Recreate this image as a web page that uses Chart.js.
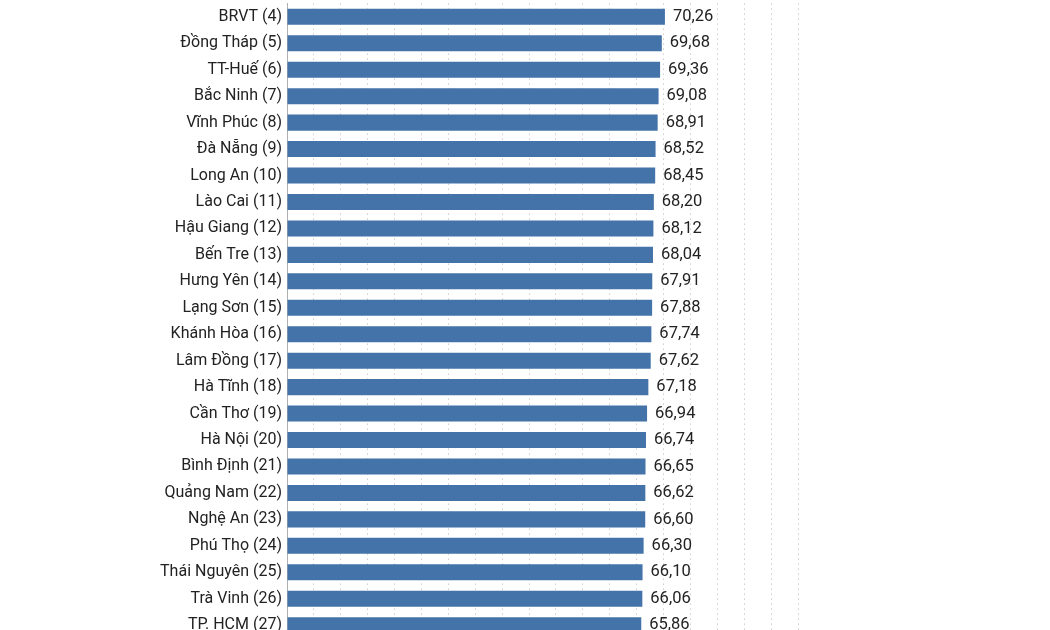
<!DOCTYPE html>
<html>
<head>
<meta charset="utf-8">
<script src="https://cdn.jsdelivr.net/npm/chart.js@4/dist/chart.umd.min.js"></script>
<style>
  html, body { margin: 0; padding: 0; background: #fff; overflow: hidden; }
  #wrap { width: 1050px; height: 630px; overflow: hidden; }
  #chart { display: block; margin-top: -11px; }
</style>
</head>
<body>
<div id="wrap"><canvas id="chart" width="1050" height="664"></canvas></div>
<script>
// Tên tỉnh (kèm thứ hạng) và điểm số
const provinces = [
  "BRVT (4)", "Đồng Tháp (5)", "TT-Huế (6)", "Bắc Ninh (7)", "Vĩnh Phúc (8)",
  "Đà Nẵng (9)", "Long An (10)", "Lào Cai (11)", "Hậu Giang (12)", "Bến Tre (13)",
  "Hưng Yên (14)", "Lạng Sơn (15)", "Khánh Hòa (16)", "Lâm Đồng (17)", "Hà Tĩnh (18)",
  "Cần Thơ (19)", "Hà Nội (20)", "Bình Định (21)", "Quảng Nam (22)", "Nghệ An (23)",
  "Phú Thọ (24)", "Thái Nguyên (25)", "Trà Vinh (26)", "TP. HCM (27)"
];
const scores = [
  70.26, 69.68, 69.36, 69.08, 68.91,
  68.52, 68.45, 68.20, 68.12, 68.04,
  67.91, 67.88, 67.74, 67.62, 67.18,
  66.94, 66.74, 66.65, 66.62, 66.60,
  66.30, 66.10, 66.06, 65.86
];
const axisMax = 95;
const axisStep = 5;

const FONT = "Roboto, 'Liberation Sans', sans-serif";

// Vẽ giá trị ở cuối mỗi thanh
const valueLabels = {
  id: "valueLabels",
  afterDatasetsDraw(chart) {
    const ctx = chart.ctx;
    const meta = chart.getDatasetMeta(0);
    ctx.save();
    ctx.font = "16.5px " + FONT;
    ctx.fillStyle = "#222";
    ctx.textAlign = "left";
    ctx.textBaseline = "middle";
    meta.data.forEach((bar, i) => {
      const txt = scores[i].toFixed(2).replace(".", ",");
      ctx.fillText(txt, bar.x + 8, bar.y);
    });
    ctx.restore();
  }
};

new Chart(document.getElementById("chart"), {
  type: "bar",
  data: {
    labels: provinces,
    datasets: [{
      data: scores,
      backgroundColor: "#4373a8",
      borderWidth: 0,
      barPercentage: 0.8,
      categoryPercentage: 0.76
    }]
  },
  options: {
    indexAxis: "y",
    responsive: false,
    animation: false,
    layout: { padding: { top: 1.5, right: 252, bottom: 4, left: 0 } },
    plugins: {
      legend: { display: false },
      tooltip: { enabled: false }
    },
    scales: {
      x: {
        min: 0,
        max: axisMax,
        afterFit(scale) { scale.height = 0; },
        ticks: { display: false, stepSize: axisStep },
        grid: { color: "#b4b4b4", drawTicks: false, lineWidth: 1 },
        border: { display: false, dash: [1, 4] }
      },
      y: {
        afterFit(scale) { scale.width = 287; },
        ticks: {
          color: "#222",
          font: { family: FONT, size: 16 },
          padding: 5
        },
        grid: { display: false, drawTicks: false },
        border: { display: true, color: "#b0b0b0", width: 1 }
      }
    }
  },
  plugins: [valueLabels]
});
</script>
</body>
</html>
